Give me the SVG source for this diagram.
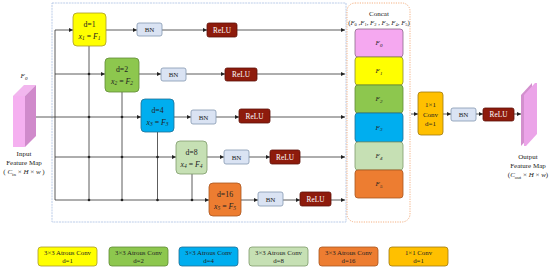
<svg xmlns="http://www.w3.org/2000/svg" width="550" height="270" viewBox="0 0 550 270">
<defs>
<marker id="ah" viewBox="0 0 6 6" refX="6" refY="3" markerWidth="4.5" markerHeight="4.5" orient="auto" markerUnits="userSpaceOnUse">
<path d="M0,0 L6,3 L0,6 z" fill="#222"/>
</marker>
</defs>
<style>
text{font-family:"Liberation Serif","Times New Roman",serif;fill:#222;text-anchor:middle}
.t{font-size:7px}
.n{font-size:7.8px}
.s{font-size:6.8px}
.i{font-style:italic}
.wire{stroke:#333;stroke-width:0.8;fill:none}
.arr{stroke:#333;stroke-width:0.8;fill:none;marker-end:url(#ah)}
.bn{fill:#DAE3F3;stroke:#8497B0;stroke-width:0.8}
.relu{fill:#8E1B0C;stroke:#5E1008;stroke-width:0.8}
.rt{font-size:7.3px;fill:#fff}
.conv{stroke-width:0.8}
.dot{fill:#222}
</style>
<rect x="52" y="3" width="294" height="219" fill="none" stroke="#B4C7E7" stroke-width="0.9" stroke-dasharray="2,0.8"/>
<rect x="347" y="3" width="63" height="219" rx="8" fill="none" stroke="#F4B183" stroke-width="1" stroke-dasharray="1.2,1.2"/>
<g id="connectors">
<path class="wire" d="M55,30 V200 M89,46 V200 M122,92 V200 M157.5,132 V200 M192,174 V200"/>
<path class="arr" d="M55,30 H73"/>
<path class="arr" d="M106,30 H137"/>
<path class="arr" d="M162,30 H207"/>
<path class="arr" d="M237,30 H345"/>
<path class="arr" d="M55,74 H105"/>
<path class="arr" d="M139,74 H161"/>
<path class="arr" d="M186,74 H225"/>
<path class="arr" d="M257,74 H345"/>
<path class="arr" d="M35,117 H141"/>
<path class="arr" d="M174,117 H191"/>
<path class="arr" d="M216,117 H239"/>
<path class="arr" d="M270,117 H345"/>
<path class="arr" d="M55,157 H176"/>
<path class="arr" d="M207,157 H224"/>
<path class="arr" d="M249,157 H270"/>
<path class="arr" d="M300,157 H345"/>
<path class="arr" d="M55,200 H209"/>
<path class="arr" d="M241,200 H258"/>
<path class="arr" d="M283,200 H300"/>
<path class="arr" d="M331,200 H345"/>
<path class="arr" d="M411,114 H418"/>
<path class="arr" d="M443,114 H451"/>
<path class="arr" d="M476,114 H483"/>
<path class="arr" d="M514,114 H521"/>
<g class="dot">
<circle cx="89" cy="74" r="1.3"/>
<circle cx="89" cy="117" r="1.3"/><circle cx="122" cy="117" r="1.3"/>
<circle cx="89" cy="157" r="1.3"/><circle cx="122" cy="157" r="1.3"/><circle cx="157.5" cy="157" r="1.3"/>
<circle cx="89" cy="200" r="1.3"/><circle cx="122" cy="200" r="1.3"/><circle cx="157.5" cy="200" r="1.3"/><circle cx="192" cy="200" r="1.3"/>
</g>
</g>
<g id="input">
<polygon points="13,96 24,85 36,85 25,96" fill="#F2B6EE"/>
<polygon points="25,96 36,85 36,136 25,147" fill="#D08ACB"/>
<rect x="13" y="96" width="12" height="51" fill="#F5B0F0"/>
<text class="t i" x="24" y="78">F<tspan font-size="5" dy="1.5">0</tspan></text>
<text class="t" x="24" y="156">Input</text>
<text class="t" x="24" y="165">Feature Map</text>
<text class="t" x="24" y="174">( <tspan class="i">C</tspan><tspan font-size="5" dy="1.5">in</tspan><tspan dy="-1.5"> × </tspan><tspan class="i">H</tspan> × <tspan class="i">w</tspan> )</text>
</g>
<g id="n1">
<rect class="conv" x="73" y="13" width="33" height="33" rx="4" fill="#FFFF00" stroke="#A89A2A"/>
<text class="n" x="89.5" y="27">d=1</text>
<text class="n i" x="89.5" y="38.5">x<tspan font-size="5.5" dy="1.5">1</tspan><tspan dy="-1.5" font-style="normal"> = </tspan>F<tspan font-size="5.5" dy="1.5">1</tspan></text>
</g>
<g id="bn1"><rect class="bn" x="137" y="23" width="25" height="13" rx="2"/><text class="t" x="149.5" y="32">BN</text></g>
<g id="relu1"><rect class="relu" x="207" y="23" width="30" height="14" rx="2"/><text class="rt" x="222" y="32.5">ReLU</text></g>
<g id="n2">
<rect class="conv" x="105" y="58" width="34" height="34" rx="4" fill="#8DC74E" stroke="#5F8A35"/>
<text class="n" x="122" y="72">d=2</text>
<text class="n i" x="122" y="83.5">x<tspan font-size="5.5" dy="1.5">2</tspan><tspan dy="-1.5" font-style="normal"> = </tspan>F<tspan font-size="5.5" dy="1.5">2</tspan></text>
</g>
<g id="bn2"><rect class="bn" x="161" y="68" width="25" height="13" rx="2"/><text class="t" x="173.5" y="77">BN</text></g>
<g id="relu2"><rect class="relu" x="225" y="68" width="32" height="13" rx="2"/><text class="rt" x="241" y="77">ReLU</text></g>
<g id="n3">
<rect class="conv" x="141" y="99" width="33" height="33" rx="4" fill="#00AEEF" stroke="#1F6F94"/>
<text class="n" x="157.5" y="113">d=4</text>
<text class="n i" x="157.5" y="124.5">x<tspan font-size="5.5" dy="1.5">3</tspan><tspan dy="-1.5" font-style="normal"> = </tspan>F<tspan font-size="5.5" dy="1.5">3</tspan></text>
</g>
<g id="bn3"><rect class="bn" x="191" y="110" width="25" height="14" rx="2"/><text class="t" x="203.5" y="119.5">BN</text></g>
<g id="relu3"><rect class="relu" x="239" y="109" width="31" height="14" rx="2"/><text class="rt" x="254.5" y="118.5">ReLU</text></g>
<g id="n4">
<rect class="conv" x="176" y="141" width="31" height="33" rx="4" fill="#C6E0B4" stroke="#7E9A6A"/>
<text class="n" x="191.5" y="155">d=8</text>
<text class="n i" x="191.5" y="166.5">x<tspan font-size="5.5" dy="1.5">4</tspan><tspan dy="-1.5" font-style="normal"> = </tspan>F<tspan font-size="5.5" dy="1.5">4</tspan></text>
</g>
<g id="bn4"><rect class="bn" x="224" y="150" width="25" height="14" rx="2"/><text class="t" x="236.5" y="159.5">BN</text></g>
<g id="relu4"><rect class="relu" x="270" y="150" width="30" height="14" rx="2"/><text class="rt" x="285" y="159.5">ReLU</text></g>
<g id="n5">
<rect class="conv" x="209" y="183" width="32" height="33" rx="4" fill="#ED7D31" stroke="#A85520"/>
<text class="n" x="225" y="197">d=16</text>
<text class="n i" x="225" y="208.5">x<tspan font-size="5.5" dy="1.5">5</tspan><tspan dy="-1.5" font-style="normal"> = </tspan>F<tspan font-size="5.5" dy="1.5">5</tspan></text>
</g>
<g id="bn5"><rect class="bn" x="258" y="192" width="25" height="14" rx="2"/><text class="t" x="270.5" y="201.5">BN</text></g>
<g id="relu5"><rect class="relu" x="300" y="192" width="31" height="14" rx="2"/><text class="rt" x="315.5" y="201.5">ReLU</text></g>
<g id="concat">
<text class="t" x="379" y="16">Concat</text>
<text class="s" x="379" y="25">(<tspan class="i">F</tspan><tspan font-size="4.5" dy="1.2">0</tspan><tspan dy="-1.2"> ,</tspan><tspan class="i">F</tspan><tspan font-size="4.5" dy="1.2">1</tspan><tspan dy="-1.2">, </tspan><tspan class="i">F</tspan><tspan font-size="4.5" dy="1.2">2</tspan><tspan dy="-1.2"> , </tspan><tspan class="i">F</tspan><tspan font-size="4.5" dy="1.2">3</tspan><tspan dy="-1.2">, </tspan><tspan class="i">F</tspan><tspan font-size="4.5" dy="1.2">4</tspan><tspan dy="-1.2">, </tspan><tspan class="i">F</tspan><tspan font-size="4.5" dy="1.2">5</tspan><tspan dy="-1.2">)</tspan></text>
<rect x="355" y="29" width="48" height="28" rx="3" fill="#F5A8F0" stroke="#8A6A88" stroke-width="0.8"/>
<rect x="355" y="57" width="48" height="28" rx="3" fill="#FFFF00" stroke="#8A8A30" stroke-width="0.8"/>
<rect x="355" y="85" width="48" height="28" rx="3" fill="#8DC74E" stroke="#5F8A35" stroke-width="0.8"/>
<rect x="355" y="113" width="48" height="29" rx="3" fill="#00AEEF" stroke="#1F6F94" stroke-width="0.8"/>
<rect x="355" y="142" width="48" height="28" rx="3" fill="#C6E0B4" stroke="#7E9A6A" stroke-width="0.8"/>
<rect x="355" y="170" width="48" height="28" rx="3" fill="#ED7D31" stroke="#A85520" stroke-width="0.8"/>
<text class="t i" x="379" y="45">F<tspan font-size="5" dy="1.5">0</tspan></text>
<text class="t i" x="379" y="73">F<tspan font-size="5" dy="1.5">1</tspan></text>
<text class="t i" x="379" y="101">F<tspan font-size="5" dy="1.5">2</tspan></text>
<text class="t i" x="379" y="129.5">F<tspan font-size="5" dy="1.5">3</tspan></text>
<text class="t i" x="379" y="158">F<tspan font-size="5" dy="1.5">4</tspan></text>
<text class="t i" x="379" y="186">F<tspan font-size="5" dy="1.5">5</tspan></text>
</g>
<g id="conv1x1">
<rect class="conv" x="418" y="92" width="25" height="43" rx="3" fill="#FFC000" stroke="#A07A10"/>
<text class="t" x="430.5" y="107">1×1</text>
<text class="t" x="430.5" y="116.5">Conv</text>
<text class="t" x="430.5" y="126">d=1</text>
</g>
<g id="bn6"><rect class="bn" x="451" y="108" width="25" height="13" rx="2"/><text class="t" x="463.5" y="117">BN</text></g>
<g id="relu6"><rect class="relu" x="483" y="108" width="31" height="13" rx="2"/><text class="rt" x="498.5" y="117">ReLU</text></g>
<g id="output">
<polygon points="521,95 532,83 532,134 521,146" fill="#D390CE"/>
<polygon points="524,95 535,83 537,83 537,134 526,146 524,146" fill="#EBA4E8"/>
<text class="t" x="528" y="159">Output</text>
<text class="t" x="528" y="168">Feature Map</text>
<text class="t" x="528" y="177">(<tspan class="i">C</tspan><tspan font-size="5" dy="1.5">out</tspan><tspan dy="-1.5"> × </tspan><tspan class="i">H</tspan> × <tspan class="i">w</tspan>)</text>
</g>
<g id="legend">
<rect x="38" y="247" width="59" height="19" rx="3" fill="#FFFF00" stroke="#A89A2A" stroke-width="0.8"/>
<text class="s" x="67.5" y="255">3×3 Atrous Conv</text><text class="s" x="67.5" y="263">d=1</text>
<rect x="109" y="247" width="59" height="19" rx="3" fill="#8DC74E" stroke="#5F8A35" stroke-width="0.8"/>
<text class="s" x="138.5" y="255">3×3 Atrous Conv</text><text class="s" x="138.5" y="263">d=2</text>
<rect x="179" y="247" width="59" height="19" rx="3" fill="#00AEEF" stroke="#1F6F94" stroke-width="0.8"/>
<text class="s" x="208.5" y="255">3×3 Atrous Conv</text><text class="s" x="208.5" y="263">d=4</text>
<rect x="249" y="247" width="59" height="19" rx="3" fill="#C6E0B4" stroke="#7E9A6A" stroke-width="0.8"/>
<text class="s" x="278.5" y="255">3×3 Atrous Conv</text><text class="s" x="278.5" y="263">d=8</text>
<rect x="319" y="247" width="59" height="19" rx="3" fill="#ED7D31" stroke="#A85520" stroke-width="0.8"/>
<text class="s" x="348.5" y="255">3×3 Atrous Conv</text><text class="s" x="348.5" y="263">d=16</text>
<rect x="389" y="247" width="59" height="19" rx="3" fill="#FFC000" stroke="#A07A10" stroke-width="0.8"/>
<text class="s" x="418.5" y="255">1×1 Conv</text><text class="s" x="418.5" y="263">d=1</text>
</g>
</svg>
